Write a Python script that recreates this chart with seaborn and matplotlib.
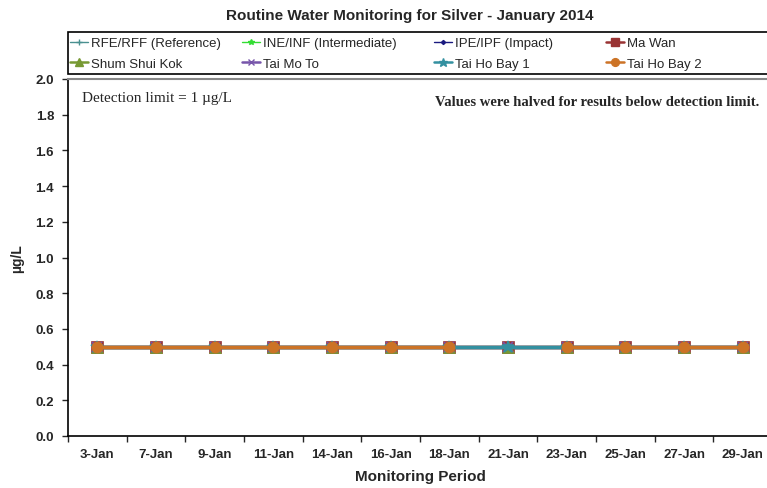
import numpy as np
import pandas as pd
import matplotlib
matplotlib.use('Agg')
import matplotlib.pyplot as plt
from matplotlib.lines import Line2D
from matplotlib.patches import Rectangle
import seaborn as sns

# Data
dates = ['3-Jan', '7-Jan', '9-Jan', '11-Jan', '14-Jan', '16-Jan',
         '18-Jan', '21-Jan', '23-Jan', '25-Jan', '27-Jan', '29-Jan']

rfe_rff    = [0.5] * 12
ine_inf    = [0.5] * 12
ipe_ipf    = [0.5] * 12
ma_wan     = [0.5] * 12
shum_shui  = [0.5] * 12
tai_mo_to  = [0.5] * 12
tai_ho_1   = [0.5] * 12
tai_ho_2   = [0.5, 0.5, 0.5, 0.5, 0.5, 0.5, 0.5, np.nan, 0.5, 0.5, 0.5, 0.5]

series = [
    ('RFE/RFF (Reference)',    rfe_rff,   '#4a9090', '+', 7, 1.0),
    ('INE/INF (Intermediate)', ine_inf,   '#33dd33', '*', 6, 1.0),
    ('IPE/IPF (Impact)',       ipe_ipf,   '#1a1a80', 'D', 3, 1.0),
    ('Ma Wan',                 ma_wan,    '#993333', 's', 8, 2.5),
    ('Shum Shui Kok',          shum_shui, '#779933', '^', 9, 2.5),
    ('Tai Mo To',              tai_mo_to, '#7755aa', 'x', 7, 2.5),
    ('Tai Ho Bay 1',           tai_ho_1,  '#3390a0', '*', 9, 2.5),
    ('Tai Ho Bay 2',           tai_ho_2,  '#cc7326', 'o', 8, 2.5),
]

# Styling
sns.set_style('white')
plt.rcParams['font.family'] = ['Liberation Sans', 'DejaVu Sans']

fig = plt.figure(figsize=(7.67, 4.89), dpi=100)
ax = fig.add_axes([68/767, 52/489, 704/767, 357/489])

x = np.arange(len(dates))
handles = []
for name, vals, color, marker, ms, lw in series:
    df = pd.DataFrame({'x': x, 'y': vals})
    # split into runs so missing values leave a gap
    run_id = df['y'].isna().cumsum()
    for _, seg in df.dropna().groupby(run_id[df['y'].notna()]):
        sns.lineplot(data=seg, x='x', y='y', ax=ax, color=color, lw=lw,
                     marker=marker, markersize=ms, markeredgecolor=color,
                     markeredgewidth=1.2 if marker in ('+', 'x', '*') else 0.5)
    handles.append((Line2D([], [], color=color, lw=min(lw, 1.8), marker=marker,
                           markersize=ms * 0.7, markeredgecolor=color), name))

ax.set_xlim(-0.5, len(dates) - 0.5)
ax.set_ylim(0, 2.0)
ax.set_yticks(np.arange(0, 2.01, 0.2))
ax.set_yticklabels([f'{v:.1f}' for v in np.arange(0, 2.01, 0.2)],
                   fontsize=9.5, fontweight='bold')
ax.set_xticks(x)
ax.set_xticklabels(dates, fontsize=9.5, fontweight='bold')
ax.set_xticks(np.arange(-0.5, len(dates), 1), minor=True)
ax.tick_params(axis='x', which='major', length=0, pad=9)
ax.tick_params(axis='x', which='minor', length=4, width=1, direction='out',
               bottom=True)
ax.tick_params(axis='y', length=4, width=1, direction='out', left=True, pad=6)

for side in ['left', 'bottom']:
    ax.spines[side].set_color('black')
    ax.spines[side].set_linewidth(1.2)
ax.spines['top'].set_color('#888888')
ax.spines['top'].set_linewidth(1.5)
ax.spines['right'].set_visible(False)

ax.set_xlabel('Monitoring Period', fontsize=11, fontweight='bold', labelpad=6)
ax.set_ylabel('µg/L', fontsize=10, fontweight='bold', labelpad=8)

ax.text(0.02, 0.965, 'Detection limit = 1 µg/L', transform=ax.transAxes,
        family=['Liberation Serif'], fontsize=11, va='top', ha='left')
ax.text(0.982, 0.955, 'Values were halved for results below detection limit.',
        transform=ax.transAxes, family=['Liberation Serif'], fontsize=10.5,
        fontweight='bold', va='top', ha='right')

fig.text(410/767, 1 - 16/489, 'Routine Water Monitoring for Silver - January 2014',
         ha='center', va='center', fontsize=11, fontweight='bold')

# legend box with four columns placed like the original
fig.patches.append(Rectangle((68/767, 1 - 75/489), 700/767, 42/489,
                             transform=fig.transFigure, fill=False,
                             edgecolor='black', lw=1.2))
col_x = [70, 242, 434, 606]
for c, cx in enumerate(col_x):
    pair = [handles[c], handles[c + 4]]
    fig.legend([h for h, _ in pair], [n for _, n in pair],
               loc='center left', bbox_to_anchor=(cx/767, 1 - 54.5/489),
               fontsize=9.5, frameon=False, borderaxespad=0, borderpad=0,
               handlelength=1.4, handletextpad=0.2, labelspacing=0.65)

fig.savefig('out.png', dpi=100)
